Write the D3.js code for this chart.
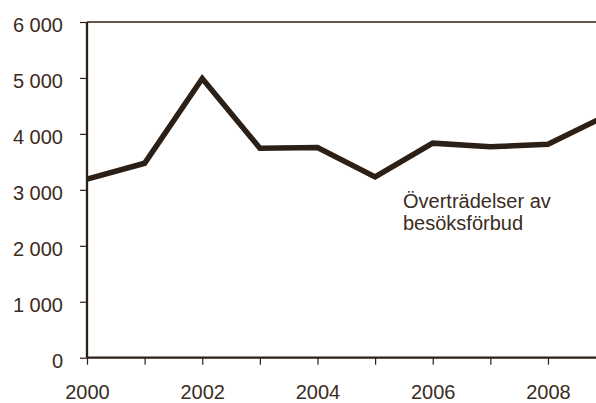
<!DOCTYPE html>
<html>
<head>
<meta charset="utf-8">
<script src="https://cdn.jsdelivr.net/npm/d3@7"></script>
<style>
html,body{margin:0;padding:0;background:#fff;}
svg{display:block;}
text{font-family:"Liberation Sans",Arial,sans-serif;}
</style>
</head>
<body>
<script>
const years = [2000, 2001, 2002, 2003, 2004, 2005, 2006, 2007, 2008, 2009];
const values = [3190, 3475, 4990, 3745, 3755, 3230, 3835, 3770, 3815, 4320];
const yTicks = [0, 1000, 2000, 3000, 4000, 5000, 6000];
const xTicks = [2000, 2001, 2002, 2003, 2004, 2005, 2006, 2007, 2008];
const xLabels = [2000, 2002, 2004, 2006, 2008];
const seriesLabel = ["Överträdelser av", "besöksförbud"];

const W = 596, H = 403;
const ink = "#2c1f15";
const textCol = "#3a2c22";

const svg = d3.select("body").append("svg").attr("width", W).attr("height", H);

const x = d3.scaleLinear().domain([2000, 2009]).range([87, 605.6]);
const y = d3.scaleLinear().domain([0, 6000]).range([357.7, 22]);

const fmt = d => d3.format(",")(d).replace(/,/g, " ");

// top frame line
svg.append("line")
  .attr("x1", x(2000)).attr("x2", W)
  .attr("y1", y(6000)).attr("y2", y(6000))
  .attr("stroke", ink).attr("stroke-width", 1.4);

// y axis
const yAxis = svg.append("g")
  .attr("transform", `translate(${x(2000)},0)`)
  .call(d3.axisLeft(y).tickValues(yTicks).tickSize(7).tickPadding(17).tickFormat(fmt));
yAxis.select(".domain").attr("stroke", ink).attr("stroke-width", 2.3).attr("d", `M0,${y(0)}V${y(6000)}`);
yAxis.selectAll(".tick line").attr("stroke", ink).attr("stroke-width", 1.2);
yAxis.selectAll(".tick text")
  .attr("fill", textCol).attr("font-size", 20)
  .attr("font-family", "'Liberation Sans', Arial, sans-serif")
  .attr("dy", "0.48em");

// x axis
const xAxis = svg.append("g")
  .attr("transform", `translate(0,${y(0)})`)
  .call(d3.axisBottom(x).tickValues(xTicks).tickSize(7).tickPadding(20)
    .tickFormat(d => xLabels.includes(d) ? String(d) : ""));
xAxis.select(".domain").attr("stroke", ink).attr("stroke-width", 2.3).attr("d", `M${x(2000)},0H${W}`);
xAxis.selectAll(".tick line").attr("stroke", ink).attr("stroke-width", 1.2);
xAxis.selectAll(".tick text")
  .attr("fill", textCol).attr("font-size", 20)
  .attr("font-family", "'Liberation Sans', Arial, sans-serif");

// line
const line = d3.line().x((d, i) => x(years[i])).y(d => y(d));
svg.append("path")
  .datum(values)
  .attr("d", line)
  .attr("fill", "none")
  .attr("stroke", ink)
  .attr("stroke-width", 5.5)
  .attr("stroke-linejoin", "miter");

// series label
const lbl = svg.append("text")
  .attr("x", 403).attr("y", 207.7)
  .attr("fill", textCol).attr("font-size", 20);
seriesLabel.forEach((t, i) => {
  lbl.append("tspan").attr("x", 403).attr("dy", i === 0 ? 0 : 22.3).text(t);
});
</script>
</body>
</html>
